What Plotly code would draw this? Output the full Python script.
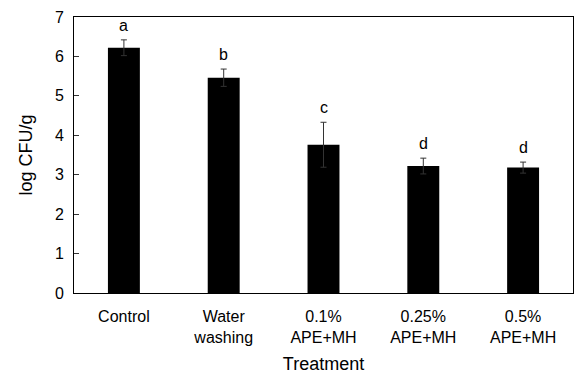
import plotly.graph_objects as go

categories = ["Control", "Water<br>washing", "0.1%<br>APE+MH", "0.25%<br>APE+MH", "0.5%<br>APE+MH"]
means = [6.22, 5.46, 3.76, 3.22, 3.18]
errors = [0.20, 0.22, 0.57, 0.20, 0.14]
letters = ["a", "b", "c", "d", "d"]
y_ticks = [0, 1, 2, 3, 4, 5, 6, 7]

FONT = "Liberation Sans, Arial, sans-serif"

fig = go.Figure()
fig.add_trace(go.Bar(
    x=categories, y=means,
    width=0.32,
    marker=dict(color="black", line=dict(width=0)),
    error_y=dict(type="data", array=errors, visible=True,
                 color="#333333", thickness=1, width=3),
    showlegend=False,
))

for c, m, e, l in zip(categories, means, errors, letters):
    fig.add_annotation(x=c, y=m + e, text=l, showarrow=False,
                       yanchor="bottom", yshift=4,
                       font=dict(family=FONT, size=16, color="black"))

fig.update_layout(
    width=574, height=374,
    margin=dict(l=74, r=1, t=17, b=81, autoexpand=False),
    paper_bgcolor="white", plot_bgcolor="white",
    font=dict(family=FONT, size=16, color="black"),
    bargap=0.68,
    xaxis=dict(
        range=[-0.5, 4.5], automargin=False,
        showline=True, linecolor="black", linewidth=1, mirror=True,
        ticks="", showgrid=False,
        tickfont=dict(size=16),
        ticklabelstandoff=9,
        title=dict(text="Treatment", font=dict(size=18), standoff=16),
    ),
    yaxis=dict(
        range=[0, 7], tickvals=y_ticks, automargin=False,
        showline=True, linecolor="black", linewidth=1, mirror=True,
        ticks="inside", ticklen=5, tickcolor="#333333",
        showgrid=False, zeroline=False,
        tickfont=dict(size=16),
        ticklabelstandoff=6,
        title=dict(text="log CFU/g", font=dict(size=18), standoff=17),
    ),
)

post = """
document.body.style.margin = '0';
document.body.style.overflow = 'hidden';
var gd = document.getElementById('{plot_id}');
Plotly.relayout(gd, {width: 574, height: 374});
"""

fig.write_html("out.html", post_script=post,
               config={"displayModeBar": False, "responsive": False})
